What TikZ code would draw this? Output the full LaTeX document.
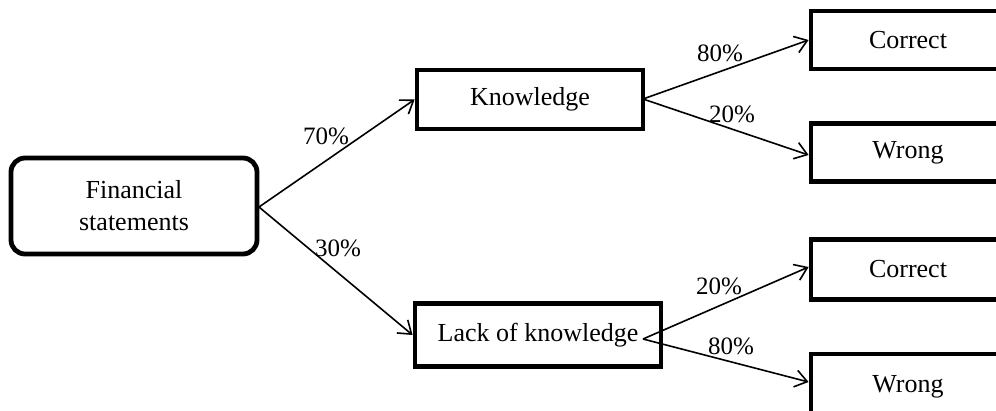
\documentclass[tikz,border=0pt]{standalone}
\usepackage{fontspec}
\setmainfont{Liberation Serif}
\usetikzlibrary{arrows.meta}
\begin{document}
\begin{tikzpicture}[x=1pt,y=-1pt,
  box/.style={draw,line width=4.8pt,rectangle,inner sep=0pt,align=center,
    font=\fontsize{26}{32}\selectfont},
  rbox/.style={box,rounded corners=14pt},
  conn/.style={line width=1.6pt,-{Straight Barb[length=12pt,width=17pt,line width=1.6pt]}},
  pct/.style={font=\fontsize{25}{30}\selectfont,inner sep=0pt}]
\useasboundingbox (0,0) rectangle (996,410);
\node[rbox,minimum width=246pt,minimum height=96pt] (fin) at (134,206) {Financial\\statements};
\node[box,minimum width=226pt,minimum height=59pt] (know) at (530,99.5) {Knowledge};
\node[box,minimum width=246pt,minimum height=63pt] (lack) at (538,335) {Lack of knowledge};
\node[box,minimum width=194pt,minimum height=58pt] (c1) at (908,40) {Correct};
\node[box,minimum width=194pt,minimum height=58pt] (w1) at (908,152.5) {Wrong};
\node[box,minimum width=194pt,minimum height=60pt] (c2) at (908,269.5) {Correct};
\node[box,minimum width=194pt,minimum height=66pt] (w2) at (908,387) {Wrong};
\coordinate (fo) at (259,207);
\coordinate (ko) at (643,99);
\coordinate (lo) at (643,339);
\draw[conn] (fo) -- (know.west);
\draw[conn] (fo) -- (lack.west);
\draw[conn] (ko) -- (c1.west);
\draw[conn] (ko) -- (w1.west|-0,155);
\draw[conn] (lo) -- (c2.west|-0,267);
\draw[conn] (lo) -- (w2.west|-0,382);
\node[pct] (p70) at (326,136) {70\%};
\node[pct] (p30) at (338,248) {30\%};
\node[pct] (p80a) at (720,53) {80\%};
\node[pct] (p20a) at (732,114) {20\%};
\node[pct] (p20b) at (719,286) {20\%};
\node[pct] (p80b) at (731,346) {80\%};
\end{tikzpicture}
\end{document}
